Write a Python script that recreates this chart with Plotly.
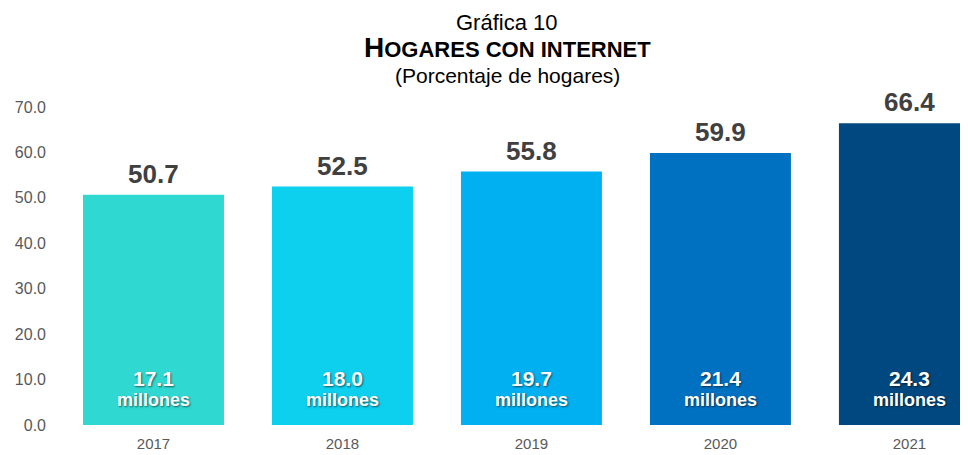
import plotly.graph_objects as go

years = ["2017", "2018", "2019", "2020", "2021"]
pct_hogares = [50.7, 52.5, 55.8, 59.9, 66.4]
millones = [17.1, 18.0, 19.7, 21.4, 24.3]
bar_colors = ["#2FD9D2", "#0DCFEE", "#00B0F0", "#0070C0", "#00487F"]
y_ticks = [0, 10, 20, 30, 40, 50, 60, 70]

FONT = "Liberation Sans, Arial"
shadow = "1px 1px 2px rgba(0,0,0,0.55)"

fig = go.Figure()

fig.add_trace(go.Bar(
    x=years,
    y=pct_hogares,
    marker=dict(color=bar_colors, line=dict(width=0)),
    hoverinfo="skip"
))

# Value labels above bars (x by index: numeric-looking categories)
for i, val in enumerate(pct_hogares):
    fig.add_annotation(
        x=i, y=val, xref="x", yref="y",
        text=f"<b>{val:.1f}</b>",
        showarrow=False, yanchor="bottom", yshift=4,
        font=dict(family=FONT, size=26, color="#404040")
    )

# Households in millions inside bars
for i, m in enumerate(millones):
    fig.add_annotation(
        x=i, y=10.3, xref="x", yref="y",
        text=f"<b>{m:.1f}</b>",
        showarrow=False,
        font=dict(family=FONT, size=21, color="white", shadow=shadow)
    )
    fig.add_annotation(
        x=i, y=5.5, xref="x", yref="y",
        text="<b>millones</b>",
        showarrow=False,
        font=dict(family=FONT, size=18, color="white", shadow=shadow)
    )

# Titles (plot area is 318 px tall, top at 99 px)
ph = 318.0
top = 99
title_x = 0.493
fig.add_annotation(
    x=title_x, y=1 + top / ph, xref="paper", yref="paper", yanchor="top",
    text="Gráfica 10", showarrow=False,
    font=dict(family=FONT, size=22, color="black")
)
fig.add_annotation(
    x=title_x, y=1 + (top - 39) / ph, xref="paper", yref="paper", yanchor="middle",
    text="<b><span style='font-size:28px'>H</span>OGARES CON INTERNET</b>",
    showarrow=False,
    font=dict(family=FONT, size=22, color="black")
)
fig.add_annotation(
    x=title_x, y=1 + (top - 67) / ph, xref="paper", yref="paper", yanchor="middle",
    text="(Porcentaje de hogares)", showarrow=False,
    font=dict(family=FONT, size=21, color="black")
)

fig.update_layout(
    width=960,
    height=447,
    margin=dict(l=51, r=0, t=top, b=30),
    paper_bgcolor="white",
    plot_bgcolor="white",
    showlegend=False,
    bargap=0.254,
    font=dict(family=FONT, color="#595959", size=15),
    xaxis=dict(
        type="category",
        range=[-0.5, 4.31],
        showgrid=False, showline=False, zeroline=False,
        ticklabelstandoff=8,
        tickfont=dict(size=15, color="#595959")
    ),
    yaxis=dict(
        range=[0, 70],
        tickvals=y_ticks,
        tickformat=".1f",
        showgrid=False, showline=False, zeroline=False,
        ticklabelstandoff=12,
        tickfont=dict(size=16, color="#595959")
    )
)

fig.write_html("out.html")
